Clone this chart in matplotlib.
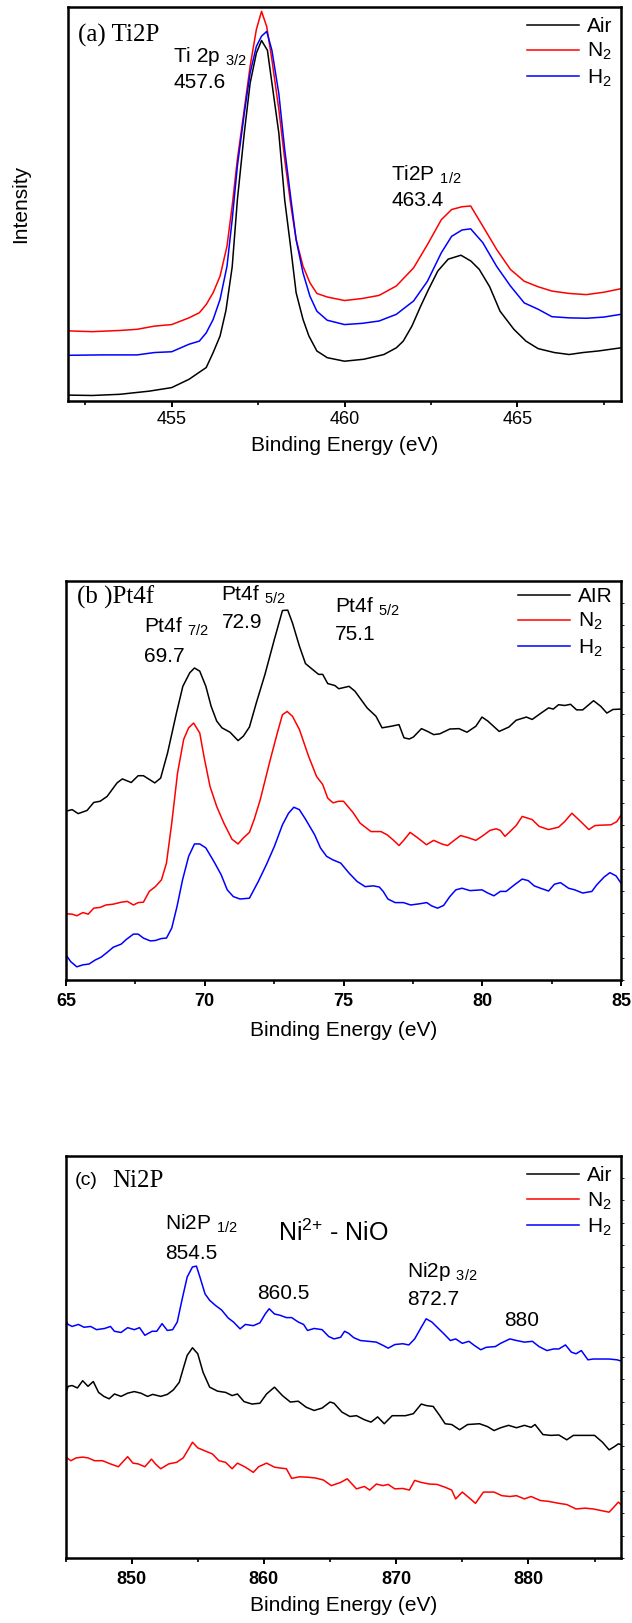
import numpy as np
import matplotlib
matplotlib.use("Agg")
import matplotlib.pyplot as plt
from matplotlib.ticker import MultipleLocator, NullFormatter

plt.rcParams['font.family'] = ['Liberation Sans', 'DejaVu Sans']
plt.rcParams['mathtext.fontset'] = 'custom'
plt.rcParams['mathtext.rm'] = 'Liberation Sans'
plt.rcParams['mathtext.it'] = 'Liberation Sans:italic'

# ---- (a) Ti2P ----
ti_air_x = [452.0, 452.7, 453.5, 454.35, 455.0, 455.5, 456.0, 456.2, 456.4, 456.57, 456.75, 456.9,
            457.1, 457.27, 457.45, 457.6, 457.77, 457.9, 458.1, 458.27, 458.45, 458.6, 458.8, 458.97,
            459.2, 459.5, 460.0, 460.56, 461.14, 461.5, 461.7, 461.95, 462.2, 462.43, 462.7, 463.0,
            463.37, 463.66, 463.9, 464.2, 464.5, 464.9, 465.25, 465.6, 466.07, 466.5, 466.9, 467.35, 468.0]
ti_air_y = [1.5, 1.4, 1.7, 2.5, 3.4, 5.5, 8.5, 12.3, 16.5, 23, 34, 51,
            68, 80.7, 88.3, 91.5, 89, 80.7, 68, 51, 38.5, 27.5, 20.7, 16.5,
            12.7, 11, 10.1, 10.6, 11.8, 13.5, 15.2, 19, 24, 28.3, 33, 36,
            37, 35.5, 33.4, 29, 22.8, 18.2, 15.2, 13.3, 12.3, 11.8, 12.3, 12.7, 13.5]

ti_n2_x = [452.0, 452.7, 453.5, 454.0, 454.5, 455.0, 455.5, 455.8, 456.0, 456.2, 456.4, 456.6,
           456.75, 456.9, 457.1, 457.27, 457.45, 457.6, 457.75, 457.9, 458.1, 458.27, 458.45, 458.6,
           458.8, 459.0, 459.2, 459.5, 460.0, 460.5, 461.0, 461.5, 462.0, 462.4, 462.8, 463.1,
           463.4, 463.65, 464.0, 464.4, 464.8, 465.2, 465.6, 466.0, 466.5, 467.0, 467.5, 468.0]
ti_n2_y = [17.8, 17.6, 17.9, 18.2, 19, 19.4, 21.1, 22.4, 24.5, 27.5, 31.7, 39.3,
           49.5, 61.3, 74, 85, 94.3, 98.9, 95, 86.6, 74, 61.3, 49.5, 41,
           34.2, 30, 27.3, 26.4, 25.5, 26, 26.8, 29.2, 33.8, 39.7, 46, 48.6,
           49.3, 49.5, 44.4, 38.5, 33.4, 30.4, 29, 27.9, 27.3, 27, 27.6, 28.5]

ti_h2_x = [452.0, 453.0, 454.0, 454.5, 455.0, 455.5, 455.8, 456.0, 456.2, 456.4, 456.6, 456.75,
           456.9, 457.1, 457.27, 457.45, 457.6, 457.75, 457.9, 458.1, 458.27, 458.45, 458.6, 458.8,
           459.0, 459.2, 459.5, 460.0, 460.5, 461.0, 461.5, 462.0, 462.4, 462.8, 463.1, 463.4,
           463.65, 464.0, 464.4, 464.8, 465.2, 465.6, 466.0, 466.5, 467.0, 467.5, 468.0]
ti_h2_y = [11.6, 11.7, 11.7, 12.3, 12.5, 14.4, 15.2, 17.3, 20.7, 25.8, 34.2, 46,
           59.6, 73, 83.3, 90, 92.6, 93.8, 89, 78, 63.8, 51.2, 41, 32.5,
           26.6, 22.8, 20.5, 19.4, 19.7, 20.3, 22, 25.4, 30.4, 37.6, 41.8, 43.4,
           43.7, 40.2, 34.2, 29.2, 24.9, 23.3, 21.4, 21.1, 21, 21.3, 22]

# ---- (b) Pt4f ----
pt_air_x = [65.0, 65.22, 65.44, 65.76, 66.0, 66.23, 66.48, 66.84, 67.03, 67.35, 67.6, 67.79, 68.2,
            68.41, 68.66, 68.98, 69.21, 69.46, 69.63, 69.82, 70.04, 70.23, 70.43, 70.62, 70.91, 71.2,
            71.39, 71.61, 71.86, 72.17, 72.51, 72.8, 72.99, 73.16, 73.41, 73.63, 73.82, 74.1, 74.25,
            74.43, 74.69, 74.83, 75.2, 75.41, 75.63, 75.85, 76.17, 76.39, 76.72, 77.0, 77.18, 77.37,
            77.52, 77.81, 78.03, 78.25, 78.47, 78.83, 79.16, 79.45, 79.77, 79.99, 80.2, 80.61, 80.96,
            81.22, 81.59, 81.8, 82.1, 82.39, 82.56, 82.75, 82.97, 83.18, 83.4, 83.62, 84.01, 84.27,
            84.49, 84.71, 85.0]
pt_air_y = [42.3, 42.7, 41.7, 42.5, 44.5, 44.8, 46, 49.4, 50.4, 49.5, 51.2, 51.2, 49.4,
            50.6, 56.9, 66.9, 73.6, 77, 78.2, 77.4, 73.6, 68.6, 64.9, 63.2, 62.1, 60,
            61.1, 63.4, 69.5, 76.6, 85.4, 92.6, 92.7, 89.5, 83.7, 79.3, 78.2, 76.6, 76.6,
            74.3, 73.8, 73, 73.6, 72.4, 70.3, 68.2, 66.1, 63.2, 63.6, 64, 60.7, 60.4,
            60.9, 63, 62.3, 61.5, 61.7, 62.9, 63, 62.1, 63.6, 65.9, 64.9, 62.3, 63.4,
            65.1, 65.9, 65.3, 66.8, 68.2, 67.9, 69, 68.8, 69.1, 67.7, 67.7, 70, 68.6,
            66.9, 67.8, 67.9]

pt_n2_x = [65.0, 65.22, 65.39, 65.61, 65.8, 66.0, 66.23, 66.44, 66.7, 66.99, 67.21, 67.43, 67.6,
           67.79, 68.0, 68.22, 68.44, 68.62, 68.81, 69.02, 69.24, 69.42, 69.6, 69.82, 69.97, 70.19,
           70.43, 70.69, 70.98, 71.2, 71.39, 71.61, 71.78, 72.0, 72.36, 72.63, 72.8, 72.97, 73.16,
           73.41, 73.74, 74.03, 74.25, 74.43, 74.62, 74.83, 75.0, 75.34, 75.6, 75.99, 76.35, 76.57,
           76.79, 77.0, 77.18, 77.4, 77.66, 77.99, 78.25, 78.54, 78.75, 78.97, 79.22, 79.48, 79.77,
           80.03, 80.28, 80.5, 80.65, 80.82, 81.0, 81.22, 81.44, 81.8, 82.05, 82.39, 82.75, 82.97,
           83.23, 83.55, 83.84, 84.06, 84.27, 84.64, 84.85, 85.0]
pt_n2_y = [16.6, 16.5, 16.1, 16.9, 16.5, 18, 18.2, 18.8, 19, 19.5, 19.7, 18.8, 19.4,
           19.5, 22.2, 23.4, 25.1, 29.3, 39.3, 51.9, 60.3, 63.2, 64.4, 61.9, 56.1, 48.5,
           43.5, 39.3, 35.3, 34.1, 35.6, 37, 40.2, 45.2, 55.2, 62.3, 66.5, 67.3, 66.1,
           62.8, 56.1, 51, 49, 45.6, 44.4, 44.8, 44.8, 42, 39.3, 37.2, 37.2, 36.4,
           35.1, 33.7, 35.1, 37, 35.7, 33.9, 35, 34.1, 33.7, 34.9, 36.2, 35.7, 35,
           36.2, 37.5, 37.9, 37.5, 36, 37.2, 38.7, 41, 40.2, 38.5, 37.7, 38.3, 39.7,
           41.8, 39.7, 37.7, 38.7, 38.8, 38.9, 39.7, 41.3]

pt_h2_x = [65.0, 65.17, 65.39, 65.61, 65.83, 66.05, 66.26, 66.48, 66.7, 66.99, 67.18, 67.43, 67.6,
           67.79, 68.04, 68.22, 68.44, 68.62, 68.81, 69.0, 69.2, 69.42, 69.63, 69.82, 70.04, 70.33,
           70.59, 70.81, 71.03, 71.27, 71.61, 71.93, 72.22, 72.51, 72.8, 73.02, 73.21, 73.41, 73.64,
           73.96, 74.17, 74.39, 74.62, 74.9, 75.2, 75.49, 75.78, 76.07, 76.29, 76.43, 76.6, 76.86,
           77.16, 77.42, 77.74, 78.0, 78.17, 78.39, 78.61, 78.83, 79.05, 79.27, 79.56, 79.99, 80.2,
           80.42, 80.65, 80.86, 81.15, 81.44, 81.66, 81.87, 82.1, 82.39, 82.6, 82.82, 83.11, 83.33,
           83.62, 83.95, 84.12, 84.39, 84.6, 84.82, 85.0]
pt_h2_y = [6.3, 4.6, 3.3, 3.8, 4, 5, 5.7, 6.9, 8.2, 9, 10.2, 11.5, 11.5,
           10.5, 9.8, 9.9, 10.4, 10.5, 13, 18.4, 25.1, 31, 34.1, 34.1, 33.1, 29.7,
           26.4, 22.6, 20.9, 20.3, 20.5, 24.7, 28.9, 33.5, 38.9, 41.8, 43.3, 42.7, 40.2,
           36.4, 33.1, 31, 30.1, 29.3, 26.8, 24.7, 23.4, 23.6, 23.3, 22.2, 20.3, 19.4,
           19.4, 18.8, 19.1, 19.4, 18.6, 18, 18.7, 20.9, 22.6, 23, 22.4, 22.6, 21.8,
           21.1, 22.2, 22.2, 23.8, 25.3, 24.9, 23.6, 23, 22.3, 24, 24.4, 23, 22.6,
           21.8, 22.2, 23.8, 25.8, 26.9, 26.1, 24.3]

# ---- (c) Ni2P ----
ni_h2_x = [845.0, 845.2, 845.5, 845.98, 846.4, 846.9, 847.35, 847.96, 848.4, 848.7, 849.2, 849.7,
           850.2, 850.6, 851.0, 851.55, 851.9, 852.3, 852.7, 853.1, 853.45, 853.8, 854.2, 854.6,
           854.9, 855.2, 855.55, 855.9, 856.35, 856.8, 857.3, 857.7, 858.2, 858.6, 859.2, 859.7,
           860.1, 860.4, 860.8, 861.2, 861.7, 862.1, 862.6, 863.0, 863.3, 863.8, 864.4, 864.9,
           865.3, 865.8, 866.1, 866.4, 866.8, 867.3, 867.9, 868.5, 869.0, 869.4, 869.9, 870.5,
           870.96, 871.4, 871.9, 872.27, 872.7, 873.1, 873.6, 874.1, 874.5, 875.0, 875.5, 875.9,
           876.4, 876.8, 877.5, 877.9, 878.6, 879.1, 879.7, 880.3, 880.8, 881.4, 881.9, 882.3,
           882.8, 883.25, 883.6, 884.0, 884.5, 884.9, 885.5, 886.1, 886.7, 887.0]
ni_h2_y = [59.1, 58.1, 57.6, 58.1, 57.4, 57.6, 56.8, 57.1, 57.6, 56.4, 56.1, 57.3,
           56.8, 57.3, 55.4, 56.4, 56.4, 58.3, 56.6, 56.8, 58.7, 64.1, 69.9, 72.4,
           72.6, 69.5, 65.7, 64.1, 62.8, 61.7, 59.7, 58.7, 57, 58.1, 57.8, 58.5,
           60.7, 62, 60.7, 60.4, 59.8, 59.8, 58.7, 58.1, 56.6, 57.1, 56.8, 55.1,
           54.5, 54.9, 56.4, 55.9, 54.8, 54.1, 53.9, 53.7, 52.9, 52.2, 53.1, 53.3,
           53, 54.5, 57.4, 59.5, 58.7, 57.4, 55.8, 54.1, 54.5, 53.4, 53.9, 52.9,
           51.8, 52.4, 52.6, 53.4, 54.5, 54.1, 53.7, 53.9, 52.6, 51.6, 52, 52,
           53, 51.2, 50.8, 51.6, 49.3, 49.5, 49.5, 49.5, 49.3, 49]

ni_air_x = [845.0, 845.2, 845.5, 845.9, 846.3, 846.7, 847.1, 847.5, 847.9, 848.3, 848.7, 849.2,
            849.7, 850.2, 850.7, 851.2, 851.6, 852.2, 852.7, 853.15, 853.6, 853.9, 854.2, 854.6,
            855.0, 855.4, 855.9, 856.5, 857.1, 857.6, 858.0, 858.5, 859.1, 859.7, 860.2, 860.8,
            861.4, 862.0, 862.6, 863.2, 863.8, 864.4, 865.0, 865.3, 865.9, 866.5, 867.0, 867.6,
            868.1, 868.6, 869.1, 869.7, 870.2, 870.7, 871.3, 871.9, 872.3, 872.8, 873.3, 873.7,
            874.2, 874.8, 875.4, 876.3, 876.9, 877.4, 877.9, 878.5, 879.1, 879.7, 880.2, 880.5,
            881.1, 881.7, 882.3, 882.9, 883.4, 884.1, 885.0, 885.6, 886.1, 886.5, 886.8, 887.0]
ni_air_y = [40.8, 42.7, 42.9, 42.3, 44.1, 42.7, 43.9, 41.2, 40.2, 39.6, 40.8, 40.2,
            41, 41.4, 41, 40.2, 40.7, 40.2, 40.7, 41.8, 43.7, 47.1, 50.4, 52.3,
            50.8, 46.2, 42.5, 41.5, 41.2, 40.4, 40.8, 38.9, 38.3, 38.5, 40.8, 42.5,
            40.4, 38.8, 39, 37.5, 36.7, 37.3, 38.8, 38.5, 36.3, 35.2, 35.4, 34.4,
            33.8, 35.1, 33.4, 35.4, 35.4, 35.4, 35.9, 38.3, 37.9, 37.7, 35.4, 33.4,
            33.2, 31.9, 33.2, 33.4, 32.7, 31.7, 32.4, 33, 32.4, 33, 32.5, 33.2,
            30.7, 30.5, 30.6, 29.4, 30.5, 30.5, 30.5, 28.8, 26.9, 27.7, 28.4, 28.2]

ni_n2_x = [845.0, 845.4, 845.8, 846.3, 846.7, 847.2, 847.8, 848.4, 849.0, 849.3, 849.7, 850.1,
           850.5, 851.0, 851.5, 851.8, 852.2, 852.8, 853.4, 853.9, 854.3, 854.6, 855.0, 855.5,
           856.1, 856.6, 857.1, 857.6, 858.0, 858.6, 859.2, 859.6, 860.2, 860.8, 861.2, 861.7,
           862.1, 862.7, 863.3, 863.9, 864.5, 865.1, 865.8, 866.3, 867.0, 867.6, 868.0, 868.5,
           869.0, 869.4, 869.9, 870.5, 871.0, 871.4, 871.9, 872.5, 873.1, 873.7, 874.2, 874.5,
           875.0, 875.4, 876.0, 876.6, 877.4, 878.0, 878.6, 879.1, 879.7, 880.2, 880.9, 881.5,
           882.3, 882.9, 883.6, 884.3, 884.9, 885.5, 886.1, 886.5, 886.8, 887.0]
ni_n2_y = [25.2, 24.2, 24.9, 25.1, 24.9, 24.2, 24.2, 23.4, 22.7, 23.8, 25.2, 23.6,
           23.4, 22.7, 24.6, 23.4, 22.2, 23.4, 23.8, 24.9, 27.1, 28.8, 27.4, 26.7,
           25.9, 24.2, 23.8, 22.2, 23.6, 22.6, 21.3, 22.7, 23.6, 22.6, 22.4, 22.2,
           19.8, 20.2, 20.1, 19.9, 19.4, 18, 18.8, 19.7, 17.2, 17.8, 16.9, 18.4,
           18, 18.3, 17.2, 17.3, 16.9, 19.3, 18.8, 18.4, 18.3, 17.6, 16.9, 14.7,
           16.4, 15.3, 13.6, 16.4, 16.4, 15.5, 15.3, 15.5, 14.7, 15.3, 14.3, 14.1,
           13.6, 13.3, 12.2, 12.4, 12.2, 11.8, 11.4, 12.8, 13.9, 13.3]

BLACK, RED, BLUE = '#000000', '#ff0000', '#0000ff'
W, H = 632, 1623


def setup_axes(fig, box, xlim, major, minor, bold_ticks, right_ticks):
    l, t, r, b = box
    ax = fig.add_axes([l / W, 1 - b / H, (r - l) / W, (b - t) / H])
    ax.set_xlim(*xlim)
    ax.set_ylim(0, 100)
    ax.xaxis.set_major_locator(MultipleLocator(major))
    ax.xaxis.set_minor_locator(MultipleLocator(minor))
    for s in ax.spines.values():
        s.set_linewidth(1.8)
    ax.tick_params(axis='x', which='major', direction='out', length=4.5, width=1.4,
                   labelsize=13, pad=3 if not bold_ticks else 5, top=False)
    ax.tick_params(axis='x', which='minor', direction='out', length=2.6, width=1.2, top=False)
    if bold_ticks:
        for lab in ax.get_xticklabels():
            lab.set_fontweight('bold')
    if right_ticks:
        ax.set_yticks(np.arange(0, 100, 5.56))
        ax.yaxis.set_major_formatter(NullFormatter())
        ax.tick_params(axis='y', which='major', left=False, right=True, direction='out',
                       length=2, width=0.6)
    else:
        ax.set_yticks([])
    return ax


def add_legend(ax, labels, x, y):
    leg = ax.legend(labels, loc='upper right', bbox_to_anchor=(x, y), frameon=False,
                    fontsize=15, handlelength=2.5, handletextpad=0.4, labelspacing=0.25,
                    borderpad=0, borderaxespad=0)
    return leg


fig = plt.figure(figsize=(W / 100, H / 100), dpi=100)

# panel (a)
ax1 = setup_axes(fig, (68, 7, 621, 401), (452, 468), 5, 2.5, False, False)
ax1.plot(ti_air_x, ti_air_y, color=BLACK, lw=1.1)
ax1.plot(ti_n2_x, ti_n2_y, color=RED, lw=1.1)
ax1.plot(ti_h2_x, ti_h2_y, color=BLUE, lw=1.1)
add_legend(ax1, ['Air', 'N$_2$', 'H$_2$'], 0.985, 0.975)
ax1.text(452.3, 92.8, '(a) Ti2P', family='Liberation Serif', fontsize=18, va='center')
ax1.text(455.05, 87.5, 'Ti 2p $_{3/2}$', fontsize=15, va='center')
ax1.text(455.05, 80.8, '457.6', fontsize=15, va='center')
ax1.text(461.35, 57.5, 'Ti2P $_{1/2}$', fontsize=15, va='center')
ax1.text(461.35, 50.8, '463.4', fontsize=15, va='center')
ax1.set_xlabel('Binding Energy (eV)', fontsize=15)
ax1.xaxis.set_label_coords(0.5, -0.088)
ax1.set_ylabel('Intensity', fontsize=15)
ax1.yaxis.set_label_coords(-0.069, 0.5)

# panel (b)
ax2 = setup_axes(fig, (66, 581, 621, 980), (65, 85), 5, 2.5, True, True)
ax2.plot(pt_air_x, pt_air_y, color=BLACK, lw=1.1)
ax2.plot(pt_n2_x, pt_n2_y, color=RED, lw=1.1)
ax2.plot(pt_h2_x, pt_h2_y, color=BLUE, lw=1.1)
add_legend(ax2, ['AIR', 'N$_2$', 'H$_2$'], 0.985, 0.985)
ax2.text(65.4, 95.8, '(b )Pt4f', family='Liberation Serif', fontsize=18, va='center')
ax2.text(67.8, 88.5, 'Pt4f $_{7/2}$', fontsize=15, va='center')
ax2.text(67.8, 81.2, '69.7', fontsize=15, va='center')
ax2.text(70.6, 96.5, 'Pt4f $_{5/2}$', fontsize=15, va='center')
ax2.text(70.6, 89.5, '72.9', fontsize=15, va='center')
ax2.text(74.7, 93.5, 'Pt4f $_{5/2}$', fontsize=15, va='center')
ax2.text(74.7, 86.6, '75.1', fontsize=15, va='center')
ax2.set_xlabel('Binding Energy (eV)', fontsize=15)
ax2.xaxis.set_label_coords(0.5, -0.103)

# panel (c)
ax3 = setup_axes(fig, (65.5, 1156, 621, 1558), (845, 887), 10, 5, True, True)
ax3.plot(ni_air_x, ni_air_y, color=BLACK, lw=1.1)
ax3.plot(ni_n2_x, ni_n2_y, color=RED, lw=1.1)
ax3.plot(ni_h2_x, ni_h2_y, color=BLUE, lw=1.1)
add_legend(ax3, ['Air', 'N$_2$', 'H$_2$'], 0.985, 0.975)
ax3.text(845.7, 93.9, '(c)', fontsize=14, va='center')
ax3.text(848.5, 93.9, 'Ni2P', family='Liberation Serif', fontsize=18, va='center')
ax3.text(852.5, 83.0, 'Ni2P $_{1/2}$', fontsize=15, va='center')
ax3.text(852.5, 75.7, '854.5', fontsize=15, va='center')
ax3.text(861.1, 81.0, 'Ni$^{2{+}}$ - NiO', fontsize=18, va='center')
ax3.text(859.5, 65.7, '860.5', fontsize=15, va='center')
ax3.text(870.8, 71.3, 'Ni2p $_{3/2}$', fontsize=15, va='center')
ax3.text(870.8, 64.3, '872.7', fontsize=15, va='center')
ax3.text(878.2, 59.1, '880', fontsize=15, va='center')
ax3.set_xlabel('Binding Energy (eV)', fontsize=15)
ax3.xaxis.set_label_coords(0.5, -0.095)

fig.savefig('out.png', dpi=100)
